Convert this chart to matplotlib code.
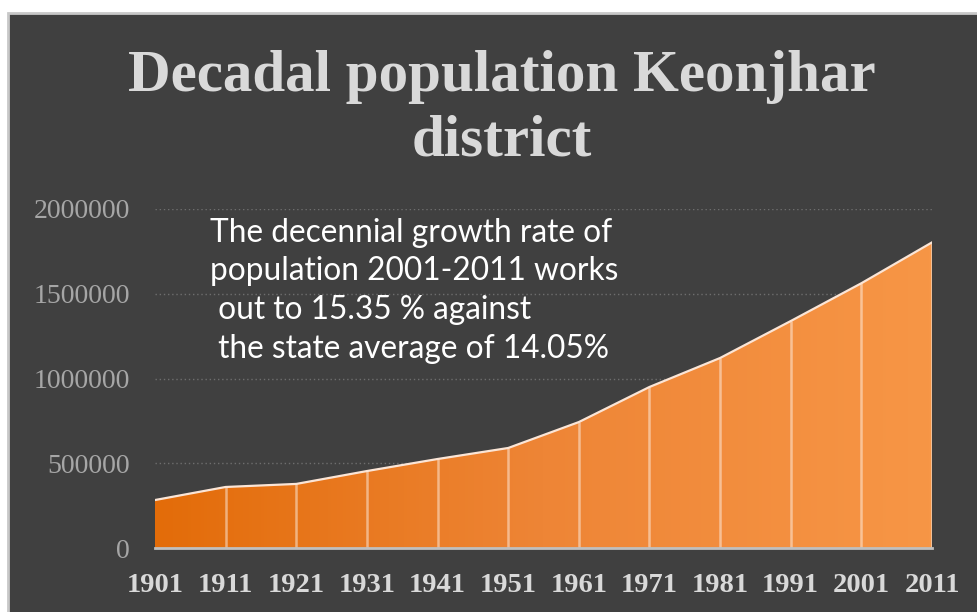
import numpy as np
import matplotlib.pyplot as plt
from matplotlib.colors import LinearSegmentedColormap
from matplotlib.patches import Polygon, Rectangle

# data
years = [1901, 1911, 1921, 1931, 1941, 1951, 1961, 1971, 1981, 1991, 2001, 2011]
population = [283000, 360000, 378000, 454000, 525000, 590000, 743000,
              950000, 1121000, 1339000, 1562000, 1803000]
y_ticks = [0, 500000, 1000000, 1500000, 2000000]
title_lines = ["Decadal population Keonjhar", "district"]
note_lines = ["The decennial growth rate of",
              "population 2001-2011 works",
              " out to 15.35 % against",
              " the state average of 14.05%"]

bg = "#404040"
fig = plt.figure(figsize=(9.77, 6.12), dpi=100, facecolor="white")
fig.patches.append(Rectangle((8 / 977, -0.05), 1.0, 1 - 13 / 612 + 0.05,
                             transform=fig.transFigure, facecolor=bg,
                             edgecolor="#c8c8c8", lw=2, zorder=-5))

ax = fig.add_axes([155 / 977, 1 - 548 / 612, (932 - 155) / 977, (548 - 209) / 612])
ax.set_facecolor("none")

# gradient fill clipped to the area under the curve
cmap = LinearSegmentedColormap.from_list("org", ["#E36C09", "#EE8536", "#F79646"])
grad = np.linspace(0, 1, 256).reshape(1, -1)
im = ax.imshow(grad, cmap=cmap, aspect="auto", extent=[years[0], years[-1], 0, 2000000],
               origin="lower", zorder=2)
verts = [(years[0], 0)] + list(zip(years, population)) + [(years[-1], 0)]
area = Polygon(verts, closed=True, facecolor="none", edgecolor="none")
ax.add_patch(area)
im.set_clip_path(area)

# top edge and vertical separators
ax.plot(years, population, color="#fbe5d6", lw=1.6, zorder=4)
ax.vlines(years[1:-1], 0, population[1:-1], color="white", alpha=0.45, lw=1.8, zorder=3)
ax.vlines([years[-1]], 0, population[-1], color="#f2c9a8", lw=1.2, zorder=3)

ax.set_xlim(years[0], years[-1])
ax.set_ylim(0, 2000000)
ax.set_yticks(y_ticks)
ax.set_yticklabels([str(v) for v in y_ticks], family="Liberation Serif",
                   fontsize=20, color="#a6a6a6")
ax.set_xticks(years)
ax.set_xticklabels([str(y) for y in years], family="Liberation Serif",
                   fontweight="bold", fontsize=20.5, color="#d9d9d9")
ax.tick_params(axis="y", length=0, pad=18)
ax.tick_params(axis="x", length=0, pad=18)
ax.yaxis.grid(True, linestyle=(0, (1, 2)), color="#6e6e6e", lw=1)
ax.set_axisbelow(True)
for s in ["left", "right", "top"]:
    ax.spines[s].set_visible(False)
ax.spines["bottom"].set_color("#bfbfbf")
ax.spines["bottom"].set_linewidth(2)
ax.spines["bottom"].set_zorder(5)

for i, line in enumerate(title_lines):
    fig.text(0.514, 1 - (91 + i * 64) / 612, line, ha="center", va="baseline",
             family="Liberation Serif", fontweight="bold", fontsize=42.5,
             color="#d9d9d9")

for i, line in enumerate(note_lines):
    fig.text(210 / 977, 1 - (242 + i * 38.5) / 612, line, ha="left", va="baseline",
             family="Lato", fontsize=22.8, color="white")

fig.savefig("out.png", dpi=100, facecolor=fig.get_facecolor())
